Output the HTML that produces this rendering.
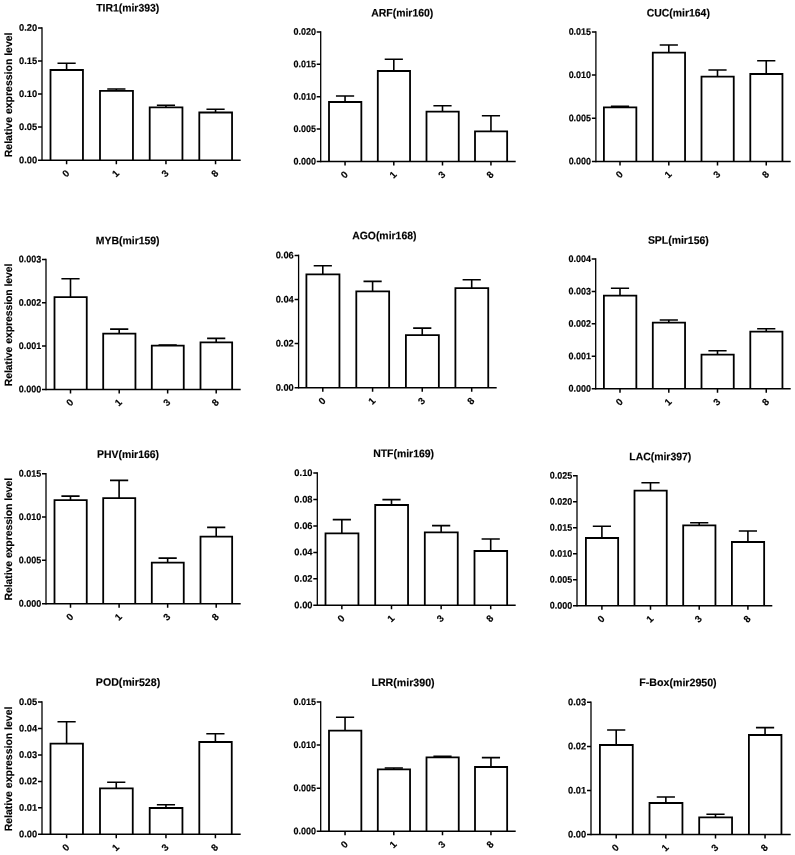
<!DOCTYPE html>
<html lang="en"><head><meta charset="utf-8"><title>Relative expression level of miRNA targets</title>
<style>html,body{margin:0;padding:0;background:#fff}body{width:795px;height:855px;overflow:hidden}svg{display:block}text{font-family:"Liberation Sans",Arial,sans-serif;font-weight:bold;text-rendering:geometricPrecision;fill:#000;stroke:#000;stroke-width:0.15px}.t{font-size:10.9px;text-anchor:middle}.k{font-size:9.5px;text-anchor:end;stroke-width:0.15px}.y{font-size:10.5px;text-anchor:middle;stroke-width:0.15px}.x{font-size:9.7px;text-anchor:middle}.a{stroke:#000;stroke-width:1.5;fill:none}.b{stroke:#000;stroke-width:1.8;fill:#fff}.e{stroke:#000;stroke-width:1.6;fill:none}</style></head><body>
<svg width="795" height="855" viewBox="0 0 795 855">
<rect width="795" height="855" fill="#fff"/>
<g>
<text class="t" transform="translate(127.7 11.55) scale(0.957 1) rotate(0.15)">TIR1(mir393)</text>
<path class="e" d="M66.6 70V63.3M57.5 63.3H75.7M116.35 90.8V89M107.25 89H125.45M165.95 107.4V105.3M156.85 105.3H175.05M215.55 112.5V109.3M206.45 109.3H224.65"/>
<path class="b" d="M50.5 160.2V70H82.95V160.2"/>
<path class="b" d="M100 160.2V90.8H132.95V160.2"/>
<path class="b" d="M149.7 160.2V107.4H182.45V160.2"/>
<path class="b" d="M199.3 160.2V112.5H232.05V160.2"/>
<path class="a" style="stroke-width:1.3" d="M42 27.15V160.95"/>
<path class="a" d="M38 160.2H240.7M38 27.9H42M38 60.97H42M38 94.05H42M38 127.12H42M66.6 160.2V164.2M116.35 160.2V164.2M165.95 160.2V164.2M215.55 160.2V164.2"/>
<text class="k" transform="translate(37.2 30.9) scale(0.98 1) rotate(0.2)">0.20</text>
<text class="k" transform="translate(37.2 63.97) scale(0.98 1) rotate(0.2)">0.15</text>
<text class="k" transform="translate(37.2 97.05) scale(0.98 1) rotate(0.2)">0.10</text>
<text class="k" transform="translate(37.2 130.12) scale(0.98 1) rotate(0.2)">0.05</text>
<text class="k" transform="translate(37.2 163.2) scale(0.98 1) rotate(0.2)">0.00</text>
<text class="x" transform="translate(65.6 173.2) rotate(-45)" x="0" y="3.6">0</text>
<text class="x" transform="translate(115.35 173.2) rotate(-45)" x="0" y="3.6">1</text>
<text class="x" transform="translate(164.95 173.2) rotate(-45)" x="0" y="3.6">3</text>
<text class="x" transform="translate(214.55 173.2) rotate(-45)" x="0" y="3.6">8</text>
<text class="y" transform="translate(8.3 94.85) rotate(-90) scale(0.999 1)" x="0" y="3.7">Relative expression level</text>
</g>
<g>
<text class="t" transform="translate(402.3 16.55) scale(0.957 1) rotate(0.15)">ARF(mir160)</text>
<path class="e" d="M345.05 102V96M335.95 96H354.15M393.8 71V59.3M384.7 59.3H402.9M442.5 111.7V105.7M433.4 105.7H451.6M490.95 131.3V115.7M481.85 115.7H500.05"/>
<path class="b" d="M329 161.5V102H361.35V161.5"/>
<path class="b" d="M377.8 161.5V71H410.05V161.5"/>
<path class="b" d="M426.5 161.5V111.7H458.75V161.5"/>
<path class="b" d="M475 161.5V131.3H507.15V161.5"/>
<path class="a" style="stroke-width:1.3" d="M320.7 31.15V162.25"/>
<path class="a" d="M316.7 161.5H515.7M316.7 31.9H320.7M316.7 64.3H320.7M316.7 96.7H320.7M316.7 129.1H320.7M345.05 161.5V165.5M393.8 161.5V165.5M442.5 161.5V165.5M490.95 161.5V165.5"/>
<text class="k" transform="translate(315.9 34.9) scale(0.945 1) rotate(0.2)">0.020</text>
<text class="k" transform="translate(315.9 67.3) scale(0.945 1) rotate(0.2)">0.015</text>
<text class="k" transform="translate(315.9 99.7) scale(0.945 1) rotate(0.2)">0.010</text>
<text class="k" transform="translate(315.9 132.1) scale(0.945 1) rotate(0.2)">0.005</text>
<text class="k" transform="translate(315.9 164.5) scale(0.945 1) rotate(0.2)">0.000</text>
<text class="x" transform="translate(344.05 174.5) rotate(-45)" x="0" y="3.6">0</text>
<text class="x" transform="translate(392.8 174.5) rotate(-45)" x="0" y="3.6">1</text>
<text class="x" transform="translate(441.5 174.5) rotate(-45)" x="0" y="3.6">3</text>
<text class="x" transform="translate(489.95 174.5) rotate(-45)" x="0" y="3.6">8</text>
</g>
<g>
<text class="t" transform="translate(678.3 16.55) scale(0.957 1) rotate(0.15)">CUC(mir164)</text>
<path class="e" d="M620 107.4V106.3M610.9 106.3H629.1M668.8 52.7V45M659.7 45H677.9M717.5 76.7V70M708.4 70H726.6M766.25 74V60.7M757.15 60.7H775.35"/>
<path class="b" d="M603.9 161.4V107.4H636.35V161.4"/>
<path class="b" d="M652.8 161.4V52.7H685.05V161.4"/>
<path class="b" d="M701.5 161.4V76.7H733.75V161.4"/>
<path class="b" d="M750.3 161.4V74H782.45V161.4"/>
<path class="a" style="stroke-width:1.3" d="M595.9 31.15V162.15"/>
<path class="a" d="M591.9 161.4H790.7M591.9 31.9H595.9M591.9 75.07H595.9M591.9 118.23H595.9M620 161.4V165.4M668.8 161.4V165.4M717.5 161.4V165.4M766.25 161.4V165.4"/>
<text class="k" transform="translate(591.1 34.9) scale(0.945 1) rotate(0.2)">0.015</text>
<text class="k" transform="translate(591.1 78.07) scale(0.945 1) rotate(0.2)">0.010</text>
<text class="k" transform="translate(591.1 121.23) scale(0.945 1) rotate(0.2)">0.005</text>
<text class="k" transform="translate(591.1 164.4) scale(0.945 1) rotate(0.2)">0.000</text>
<text class="x" transform="translate(619 174.4) rotate(-45)" x="0" y="3.6">0</text>
<text class="x" transform="translate(667.8 174.4) rotate(-45)" x="0" y="3.6">1</text>
<text class="x" transform="translate(716.5 174.4) rotate(-45)" x="0" y="3.6">3</text>
<text class="x" transform="translate(765.25 174.4) rotate(-45)" x="0" y="3.6">8</text>
</g>
<g>
<text class="t" transform="translate(127.7 244.25) scale(0.957 1) rotate(0.15)">MYB(mir159)</text>
<path class="e" d="M70.5 297.1V278.7M61.4 278.7H79.6M119.2 333.7V329.1M110.1 329.1H128.3M167.65 345.7V345M158.55 345H176.75M216.2 342.4V338.4M207.1 338.4H225.3"/>
<path class="b" d="M54.5 389.4V297.1H86.75V389.4"/>
<path class="b" d="M103.2 389.4V333.7H135.45V389.4"/>
<path class="b" d="M151.8 389.4V345.7H183.75V389.4"/>
<path class="b" d="M200.5 389.4V342.4H232.15V389.4"/>
<path class="a" style="stroke-width:1.3" d="M46 258.65V390.15"/>
<path class="a" d="M42 389.4H240.7M42 259.4H46M42 302.73H46M42 346.07H46M70.5 389.4V393.4M119.2 389.4V393.4M167.65 389.4V393.4M216.2 389.4V393.4"/>
<text class="k" transform="translate(41.2 262.4) scale(0.945 1) rotate(0.2)">0.003</text>
<text class="k" transform="translate(41.2 305.73) scale(0.945 1) rotate(0.2)">0.002</text>
<text class="k" transform="translate(41.2 349.07) scale(0.945 1) rotate(0.2)">0.001</text>
<text class="k" transform="translate(41.2 392.4) scale(0.945 1) rotate(0.2)">0.000</text>
<text class="x" transform="translate(69.5 402.4) rotate(-45)" x="0" y="3.6">0</text>
<text class="x" transform="translate(118.2 402.4) rotate(-45)" x="0" y="3.6">1</text>
<text class="x" transform="translate(166.65 402.4) rotate(-45)" x="0" y="3.6">3</text>
<text class="x" transform="translate(215.2 402.4) rotate(-45)" x="0" y="3.6">8</text>
<text class="y" transform="translate(8.3 324.9) rotate(-90) scale(0.982 1)" x="0" y="3.7">Relative expression level</text>
</g>
<g>
<text class="t" transform="translate(384.3 239.25) scale(0.957 1) rotate(0.15)">AGO(mir168)</text>
<path class="e" d="M322.8 274.4V265.7M313.7 265.7H331.9M372.6 291.4V281.4M363.5 281.4H381.7M422.25 335.1V328.1M413.15 328.1H431.35M471.7 288.1V279.7M462.6 279.7H480.8"/>
<path class="b" d="M306.4 387.7V274.4H339.45V387.7"/>
<path class="b" d="M356.3 387.7V291.4H389.15V387.7"/>
<path class="b" d="M405.9 387.7V335.1H438.85V387.7"/>
<path class="b" d="M455.4 387.7V288.1H488.25V387.7"/>
<path class="a" style="stroke-width:1.3" d="M298.6 254.65V388.45"/>
<path class="a" d="M294.6 387.7H496.7M294.6 255.4H298.6M294.6 299.5H298.6M294.6 343.6H298.6M322.8 387.7V391.7M372.6 387.7V391.7M422.25 387.7V391.7M471.7 387.7V391.7"/>
<text class="k" transform="translate(293.8 258.4) scale(0.98 1) rotate(0.2)">0.06</text>
<text class="k" transform="translate(293.8 302.5) scale(0.98 1) rotate(0.2)">0.04</text>
<text class="k" transform="translate(293.8 346.6) scale(0.98 1) rotate(0.2)">0.02</text>
<text class="k" transform="translate(293.8 390.7) scale(0.98 1) rotate(0.2)">0.00</text>
<text class="x" transform="translate(321.8 400.7) rotate(-45)" x="0" y="3.6">0</text>
<text class="x" transform="translate(371.6 400.7) rotate(-45)" x="0" y="3.6">1</text>
<text class="x" transform="translate(421.25 400.7) rotate(-45)" x="0" y="3.6">3</text>
<text class="x" transform="translate(470.7 400.7) rotate(-45)" x="0" y="3.6">8</text>
</g>
<g>
<text class="t" transform="translate(678.3 243.85) scale(0.957 1) rotate(0.15)">SPL(mir156)</text>
<path class="e" d="M620 295.7V288.3M610.9 288.3H629.1M668.8 322.7V320M659.7 320H677.9M717.5 354.7V350.7M708.4 350.7H726.6M766.25 331.7V328.7M757.15 328.7H775.35"/>
<path class="b" d="M603.9 388.7V295.7H636.35V388.7"/>
<path class="b" d="M652.8 388.7V322.7H685.05V388.7"/>
<path class="b" d="M701.5 388.7V354.7H733.75V388.7"/>
<path class="b" d="M750.3 388.7V331.7H782.45V388.7"/>
<path class="a" style="stroke-width:1.3" d="M595.7 258.25V389.45"/>
<path class="a" d="M591.7 388.7H790.7M591.7 259H595.7M591.7 291.43H595.7M591.7 323.85H595.7M591.7 356.27H595.7M620 388.7V392.7M668.8 388.7V392.7M717.5 388.7V392.7M766.25 388.7V392.7"/>
<text class="k" transform="translate(590.9 262) scale(0.945 1) rotate(0.2)">0.004</text>
<text class="k" transform="translate(590.9 294.43) scale(0.945 1) rotate(0.2)">0.003</text>
<text class="k" transform="translate(590.9 326.85) scale(0.945 1) rotate(0.2)">0.002</text>
<text class="k" transform="translate(590.9 359.27) scale(0.945 1) rotate(0.2)">0.001</text>
<text class="k" transform="translate(590.9 391.7) scale(0.945 1) rotate(0.2)">0.000</text>
<text class="x" transform="translate(619 401.7) rotate(-45)" x="0" y="3.6">0</text>
<text class="x" transform="translate(667.8 401.7) rotate(-45)" x="0" y="3.6">1</text>
<text class="x" transform="translate(716.5 401.7) rotate(-45)" x="0" y="3.6">3</text>
<text class="x" transform="translate(765.25 401.7) rotate(-45)" x="0" y="3.6">8</text>
</g>
<g>
<text class="t" transform="translate(128 457.95) scale(0.957 1) rotate(0.15)">PHV(mir166)</text>
<path class="e" d="M70.5 500.1V496.1M61.4 496.1H79.6M119.1 498.1V480.4M110 480.4H128.2M167.65 562.7V558.1M158.55 558.1H176.75M216.2 536.7V527.4M207.1 527.4H225.3"/>
<path class="b" d="M54.5 603.7V500.1H86.75V603.7"/>
<path class="b" d="M103.2 603.7V498.1H135.25V603.7"/>
<path class="b" d="M151.8 603.7V562.7H183.75V603.7"/>
<path class="b" d="M200.5 603.7V536.7H232.15V603.7"/>
<path class="a" style="stroke-width:1.3" d="M46 472.95V604.45"/>
<path class="a" d="M42 603.7H240.7M42 473.7H46M42 517.03H46M42 560.37H46M70.5 603.7V607.7M119.1 603.7V607.7M167.65 603.7V607.7M216.2 603.7V607.7"/>
<text class="k" transform="translate(41.2 476.7) scale(0.945 1) rotate(0.2)">0.015</text>
<text class="k" transform="translate(41.2 520.03) scale(0.945 1) rotate(0.2)">0.010</text>
<text class="k" transform="translate(41.2 563.37) scale(0.945 1) rotate(0.2)">0.005</text>
<text class="k" transform="translate(41.2 606.7) scale(0.945 1) rotate(0.2)">0.000</text>
<text class="x" transform="translate(69.5 616.7) rotate(-45)" x="0" y="3.6">0</text>
<text class="x" transform="translate(118.1 616.7) rotate(-45)" x="0" y="3.6">1</text>
<text class="x" transform="translate(166.65 616.7) rotate(-45)" x="0" y="3.6">3</text>
<text class="x" transform="translate(215.2 616.7) rotate(-45)" x="0" y="3.6">8</text>
<text class="y" transform="translate(8.3 539.2) rotate(-90) scale(0.982 1)" x="0" y="3.7">Relative expression level</text>
</g>
<g>
<text class="t" transform="translate(403.6 457.15) scale(0.957 1) rotate(0.15)">NTF(mir169)</text>
<path class="e" d="M341.85 533.3V519.6M332.75 519.6H350.95M391.5 505V499.6M382.4 499.6H400.6M441.15 532.3V525.6M432.05 525.6H450.25M490.7 551V539M481.6 539H499.8"/>
<path class="b" d="M325.5 605.3V533.3H358.45V605.3"/>
<path class="b" d="M375.2 605.3V505H408.05V605.3"/>
<path class="b" d="M424.8 605.3V532.3H457.75V605.3"/>
<path class="b" d="M474.5 605.3V551H507.15V605.3"/>
<path class="a" style="stroke-width:1.3" d="M317.3 472.25V606.05"/>
<path class="a" d="M313.3 605.3H515.7M313.3 473H317.3M313.3 499.46H317.3M313.3 525.92H317.3M313.3 552.38H317.3M313.3 578.84H317.3M341.85 605.3V609.3M391.5 605.3V609.3M441.15 605.3V609.3M490.7 605.3V609.3"/>
<text class="k" transform="translate(312.5 476) scale(0.98 1) rotate(0.2)">0.10</text>
<text class="k" transform="translate(312.5 502.46) scale(0.98 1) rotate(0.2)">0.08</text>
<text class="k" transform="translate(312.5 528.92) scale(0.98 1) rotate(0.2)">0.06</text>
<text class="k" transform="translate(312.5 555.38) scale(0.98 1) rotate(0.2)">0.04</text>
<text class="k" transform="translate(312.5 581.84) scale(0.98 1) rotate(0.2)">0.02</text>
<text class="k" transform="translate(312.5 608.3) scale(0.98 1) rotate(0.2)">0.00</text>
<text class="x" transform="translate(340.85 618.3) rotate(-45)" x="0" y="3.6">0</text>
<text class="x" transform="translate(390.5 618.3) rotate(-45)" x="0" y="3.6">1</text>
<text class="x" transform="translate(440.15 618.3) rotate(-45)" x="0" y="3.6">3</text>
<text class="x" transform="translate(489.7 618.3) rotate(-45)" x="0" y="3.6">8</text>
</g>
<g>
<text class="t" transform="translate(660.3 460.25) scale(0.957 1) rotate(0.15)">LAC(mir397)</text>
<path class="e" d="M601.9 538V526.3M592.8 526.3H611M650.5 490.7V482.7M641.4 482.7H659.6M699.2 525.3V522.7M690.1 522.7H708.3M747.9 542V531M738.8 531H757"/>
<path class="b" d="M585.9 605.7V538H618.15V605.7"/>
<path class="b" d="M634.5 605.7V490.7H666.75V605.7"/>
<path class="b" d="M683.2 605.7V525.3H715.45V605.7"/>
<path class="b" d="M731.9 605.7V542H764.15V605.7"/>
<path class="a" style="stroke-width:1.3" d="M577 474.95V606.45"/>
<path class="a" d="M573 605.7H772.3M573 475.7H577M573 501.7H577M573 527.7H577M573 553.7H577M573 579.7H577M601.9 605.7V609.7M650.5 605.7V609.7M699.2 605.7V609.7M747.9 605.7V609.7"/>
<text class="k" transform="translate(572.2 478.7) scale(0.945 1) rotate(0.2)">0.025</text>
<text class="k" transform="translate(572.2 504.7) scale(0.945 1) rotate(0.2)">0.020</text>
<text class="k" transform="translate(572.2 530.7) scale(0.945 1) rotate(0.2)">0.015</text>
<text class="k" transform="translate(572.2 556.7) scale(0.945 1) rotate(0.2)">0.010</text>
<text class="k" transform="translate(572.2 582.7) scale(0.945 1) rotate(0.2)">0.005</text>
<text class="k" transform="translate(572.2 608.7) scale(0.945 1) rotate(0.2)">0.000</text>
<text class="x" transform="translate(600.9 618.7) rotate(-45)" x="0" y="3.6">0</text>
<text class="x" transform="translate(649.5 618.7) rotate(-45)" x="0" y="3.6">1</text>
<text class="x" transform="translate(698.2 618.7) rotate(-45)" x="0" y="3.6">3</text>
<text class="x" transform="translate(746.9 618.7) rotate(-45)" x="0" y="3.6">8</text>
</g>
<g>
<text class="t" transform="translate(128 685.85) scale(0.975 1) rotate(0.15)">POD(mir528)</text>
<path class="e" d="M66.6 743.7V721.7M57.5 721.7H75.7M116.25 788.3V782.3M107.15 782.3H125.35M165.95 808V804.7M156.85 804.7H175.05M215.4 742V733.7M206.3 733.7H224.5"/>
<path class="b" d="M50.5 834.3V743.7H82.95V834.3"/>
<path class="b" d="M100 834.3V788.3H132.75V834.3"/>
<path class="b" d="M149.7 834.3V808H182.45V834.3"/>
<path class="b" d="M199.3 834.3V742H231.75V834.3"/>
<path class="a" style="stroke-width:1.3" d="M42 701.25V835.05"/>
<path class="a" d="M38 834.3H240.7M38 702H42M38 728.46H42M38 754.92H42M38 781.38H42M38 807.84H42M66.6 834.3V838.3M116.25 834.3V838.3M165.95 834.3V838.3M215.4 834.3V838.3"/>
<text class="k" transform="translate(37.2 705) scale(0.98 1) rotate(0.2)">0.05</text>
<text class="k" transform="translate(37.2 731.46) scale(0.98 1) rotate(0.2)">0.04</text>
<text class="k" transform="translate(37.2 757.92) scale(0.98 1) rotate(0.2)">0.03</text>
<text class="k" transform="translate(37.2 784.38) scale(0.98 1) rotate(0.2)">0.02</text>
<text class="k" transform="translate(37.2 810.84) scale(0.98 1) rotate(0.2)">0.01</text>
<text class="k" transform="translate(37.2 837.3) scale(0.98 1) rotate(0.2)">0.00</text>
<text class="x" transform="translate(65.6 847.3) rotate(-45)" x="0" y="3.6">0</text>
<text class="x" transform="translate(115.25 847.3) rotate(-45)" x="0" y="3.6">1</text>
<text class="x" transform="translate(164.95 847.3) rotate(-45)" x="0" y="3.6">3</text>
<text class="x" transform="translate(214.4 847.3) rotate(-45)" x="0" y="3.6">8</text>
<text class="y" transform="translate(8.3 768.95) rotate(-90) scale(0.999 1)" x="0" y="3.7">Relative expression level</text>
</g>
<g>
<text class="t" transform="translate(403 686.15) scale(0.975 1) rotate(0.15)">LRR(mir390)</text>
<path class="e" d="M345.05 730.6V717.3M335.95 717.3H354.15M393.8 769.3V768M384.7 768H402.9M442.5 757.3V756.3M433.4 756.3H451.6M490.95 767V757.6M481.85 757.6H500.05"/>
<path class="b" d="M329 831.3V730.6H361.35V831.3"/>
<path class="b" d="M377.8 831.3V769.3H410.05V831.3"/>
<path class="b" d="M426.5 831.3V757.3H458.75V831.3"/>
<path class="b" d="M475 831.3V767H507.15V831.3"/>
<path class="a" style="stroke-width:1.3" d="M320.7 701.25V832.05"/>
<path class="a" d="M316.7 831.3H515.7M316.7 702H320.7M316.7 745.1H320.7M316.7 788.2H320.7M345.05 831.3V835.3M393.8 831.3V835.3M442.5 831.3V835.3M490.95 831.3V835.3"/>
<text class="k" transform="translate(315.9 705) scale(0.945 1) rotate(0.2)">0.015</text>
<text class="k" transform="translate(315.9 748.1) scale(0.945 1) rotate(0.2)">0.010</text>
<text class="k" transform="translate(315.9 791.2) scale(0.945 1) rotate(0.2)">0.005</text>
<text class="k" transform="translate(315.9 834.3) scale(0.945 1) rotate(0.2)">0.000</text>
<text class="x" transform="translate(344.05 844.3) rotate(-45)" x="0" y="3.6">0</text>
<text class="x" transform="translate(392.8 844.3) rotate(-45)" x="0" y="3.6">1</text>
<text class="x" transform="translate(441.5 844.3) rotate(-45)" x="0" y="3.6">3</text>
<text class="x" transform="translate(489.95 844.3) rotate(-45)" x="0" y="3.6">8</text>
</g>
<g>
<text class="t" transform="translate(678 686.15) scale(0.975 1) rotate(0.15)">F-Box(mir2950)</text>
<path class="e" d="M616.2 745V730M607.1 730H625.3M665.85 803V797M656.75 797H674.95M715.5 817.3V814.3M706.4 814.3H724.6M765.05 735V727.6M755.95 727.6H774.15"/>
<path class="b" d="M599.9 834.6V745H632.75V834.6"/>
<path class="b" d="M649.5 834.6V803H682.45V834.6"/>
<path class="b" d="M699.2 834.6V817.3H732.05V834.6"/>
<path class="b" d="M748.9 834.6V735H781.45V834.6"/>
<path class="a" style="stroke-width:1.3" d="M591 701.55V835.35"/>
<path class="a" d="M587 834.6H790.7M587 702.3H591M587 746.4H591M587 790.5H591M616.2 834.6V838.6M665.85 834.6V838.6M715.5 834.6V838.6M765.05 834.6V838.6"/>
<text class="k" transform="translate(586.2 705.3) scale(0.98 1) rotate(0.2)">0.03</text>
<text class="k" transform="translate(586.2 749.4) scale(0.98 1) rotate(0.2)">0.02</text>
<text class="k" transform="translate(586.2 793.5) scale(0.98 1) rotate(0.2)">0.01</text>
<text class="k" transform="translate(586.2 837.6) scale(0.98 1) rotate(0.2)">0.00</text>
<text class="x" transform="translate(615.2 847.6) rotate(-45)" x="0" y="3.6">0</text>
<text class="x" transform="translate(664.85 847.6) rotate(-45)" x="0" y="3.6">1</text>
<text class="x" transform="translate(714.5 847.6) rotate(-45)" x="0" y="3.6">3</text>
<text class="x" transform="translate(764.05 847.6) rotate(-45)" x="0" y="3.6">8</text>
</g>
</svg></body></html>
